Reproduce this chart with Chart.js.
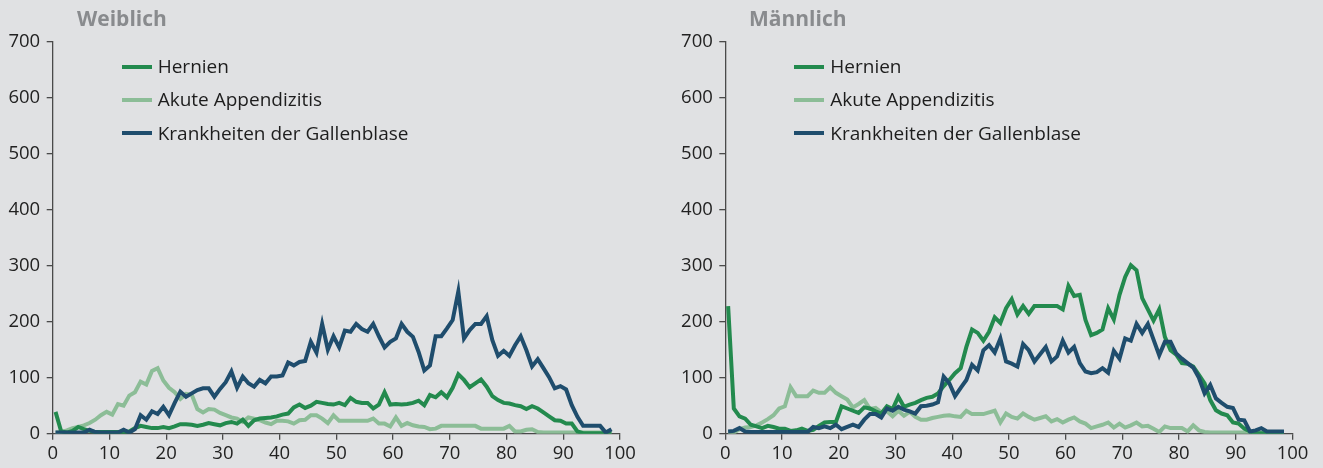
<!DOCTYPE html>
<html><head><meta charset="utf-8">
<script src="https://cdn.jsdelivr.net/npm/chart.js@4"></script>
<style>
html,body{margin:0;padding:0;background:#e0e1e3;width:1323px;height:468px;overflow:hidden;font-family:"Open Sans",sans-serif;}
#wrap{position:relative;width:1323px;height:468px;}
canvas{position:absolute;top:0;}
.title{position:absolute;top:4.3px;font-weight:bold;font-size:21px;color:#898b8e;white-space:nowrap;}
.lg{position:absolute;white-space:nowrap;font-size:19px;color:#1d1d1d;}
.sw{position:absolute;width:30px;height:4px;}
</style></head>
<body><div id="wrap">
<canvas id="cw" width="661" height="468" style="left:0"></canvas>
<canvas id="cm" width="662" height="468" style="left:661px"></canvas>
<div class="title" style="left:77px">Weiblich</div>
<div class="title" style="left:749px">Männlich</div>
<div id="legW"></div><div id="legM"></div>
</div>
<script>
const ages = [0,1,2,3,4,5,6,7,8,9,10,11,12,13,14,15,16,17,18,19,20,21,22,23,24,25,26,27,28,29,30,31,32,33,34,35,36,37,38,39,40,41,42,43,44,45,46,47,48,49,50,51,52,53,54,55,56,57,58,59,60,61,62,63,64,65,66,67,68,69,70,71,72,73,74,75,76,77,78,79,80,81,82,83,84,85,86,87,88,89,90,91,92,93,94,95,96,97,98];
const xTicks = [0,10,20,30,40,50,60,70,80,90,100];
const yTicks = [0,100,200,300,400,500,600,700];
const seriesNames = ['Hernien','Akute Appendizitis','Krankheiten der Gallenblase'];
const panelTitles = ['Weiblich','Männlich'];

// Frauen
const hernienW = [39,4,2,5,12,8,5,3,3,3, 3,3,3,4,10,14,12,10,10,12, 10,13,17,17,16,14,16,19,17,15, 19,21,18,25,14,24,27,28,29,31, 34,36,47,52,46,50,57,55,53,52, 55,51,64,57,55,55,45,52,74,52, 53,52,53,55,59,51,69,65,74,65, 82,106,96,83,90,97,84,67,60,55, 54,51,49,44,49,45,38,31,24,23, 18,18,4,1,1,1,1,1,1];
const appendW  = [2,3,6,10,12,15,19,25,33,39, 34,53,50,68,74,93,88,112,117,95, 82,74,62,71,70,44,38,44,43,37, 33,29,27,21,29,27,24,20,17,23, 23,22,18,24,25,33,33,27,19,33, 23,23,23,23,23,23,27,18,18,13, 29,14,19,15,13,12,8,9,14,14, 14,14,14,14,14,9,9,9,9,9, 14,4,4,7,8,3,2,2,2,2, 2,2,2,2,2,2,2,2,2];
const galleW   = [2,2,2,2,2,2,7,3,2,2, 2,2,7,2,8,33,25,40,35,48, 33,55,75,66,72,78,81,81,66,80, 92,111,82,102,90,84,96,90,102,102, 104,127,122,128,130,164,145,196,150,174, 154,184,182,196,187,182,196,174,154,164, 170,196,182,173,146,113,122,174,174,188, 203,254,170,185,196,196,210,167,139,148, 139,158,174,149,120,133,117,101,81,85, 79,51,30,14,14,14,14,2,8];
// Männer
const hernienM = [228,45,31,27,16,13,10,14,12,9, 9,5,6,9,5,7,14,20,21,21, 49,45,41,37,47,45,40,36,49,44, 66,48,52,55,60,64,66,72,85,96, 108,117,155,186,180,166,182,208,198,224, 240,213,228,214,228,228,228,228,228,222, 264,246,248,203,176,180,186,224,204,248, 280,301,292,242,222,202,222,173,149,141, 126,125,120,105,90,60,42,36,33,20, 18,9,4,1,1,1,1,1,1];
const appendM  = [1,2,8,11,12,15,20,26,33,45, 49,83,67,67,67,77,73,73,83,73, 67,61,47,53,60,44,46,38,40,31, 41,32,39,30,25,25,28,30,32,33, 31,30,41,35,35,35,38,41,20,36, 30,27,36,30,25,28,31,22,26,20, 25,29,22,18,10,13,16,20,11,18, 11,15,20,13,14,9,3,13,10,10, 10,4,15,6,3,2,2,2,2,2, 2,2,2,2,2,2,2,2,2];
const galleM   = [4,5,10,4,3,3,3,3,3,3, 3,3,3,3,3,12,10,13,10,16, 8,12,16,12,25,35,35,29,45,41, 48,43,40,36,49,50,52,56,102,90, 67,82,96,123,113,149,158,145,170,129, 125,120,160,149,129,142,155,129,138,166, 145,155,126,111,108,110,117,109,148,134, 170,166,196,180,196,168,140,164,164,143, 134,126,118,100,72,87,63,55,48,46, 25,24,4,6,10,4,4,4,4];

const COLORS = ['#238a4e','#8cbd97','#1f4d6d'];
const AXIS = '#4a4a4a';
const FONT = {family:'"Open Sans", sans-serif', size:18.5};

function pts(vals){ return ages.map((a,i)=>({x:a+0.5, y:vals[i]})); }

function makeChart(id, h, a, g, yWidth, padRight){
  const sets = [h,a,g];
  const orders = [1,2,0];
  new Chart(document.getElementById(id), {
    type:'line',
    data:{datasets: sets.map((s,i)=>({label:seriesNames[i], data:pts(s), borderColor:COLORS[i], backgroundColor:COLORS[i], order:orders[i]}))},
    options:{
      responsive:false, animation:false,
      layout:{padding:{left:0,right:padRight,top:41.7,bottom:0}},
      elements:{point:{radius:0}, line:{borderWidth:4, tension:0, borderJoinStyle:'miter', borderCapStyle:'butt', fill:false}},
      plugins:{legend:{display:false}, tooltip:{enabled:false}, title:{display:false}},
      scales:{
        x:{type:'linear', min:xTicks[0], max:xTicks[xTicks.length-1],
           afterFit(s){ s.height = 34.3; },
           afterBuildTicks(s){ s.ticks = xTicks.map(v=>({value:v})); },
           ticks:{padding:3, color:'#222', font:FONT, maxRotation:0, autoSkip:false},
           grid:{drawOnChartArea:false, drawTicks:true, tickLength:6, color:AXIS, lineWidth:1.3},
           border:{display:true, color:AXIS, width:1.3}},
        y:{type:'linear', min:yTicks[0], max:yTicks[yTicks.length-1],
           afterFit(s){ s.width = yWidth; },
           afterBuildTicks(s){ s.ticks = yTicks.map(v=>({value:v})); },
           ticks:{padding:6.5, color:'#222', font:FONT, autoSkip:false},
           grid:{drawOnChartArea:false, drawTicks:true, tickLength:6, color:AXIS, lineWidth:1.3},
           border:{display:true, color:AXIS, width:1.3}}
      }
    }
  });
}

makeChart('cw', hernienW, appendW, galleW, 52.7, 41);
makeChart('cm', hernienM, appendM, galleM, 64.3, 30.5);

function legend(id, swLeft){
  const el = document.getElementById(id);
  seriesNames.forEach((n,i)=>{
    const cy = 66.7 + i*33.3;
    const sw = document.createElement('div');
    sw.className='sw'; sw.style.left=swLeft+'px'; sw.style.top=(cy-2)+'px'; sw.style.background=COLORS[i];
    el.appendChild(sw);
    const t = document.createElement('div');
    t.className='lg'; t.textContent=n; t.style.left=(swLeft+36)+'px'; t.style.top=(cy+6.6-1.069*19)+'px';
    el.appendChild(t);
  });
}
legend('legW', 121.7);
legend('legM', 794.3);
</script>
</body></html>
